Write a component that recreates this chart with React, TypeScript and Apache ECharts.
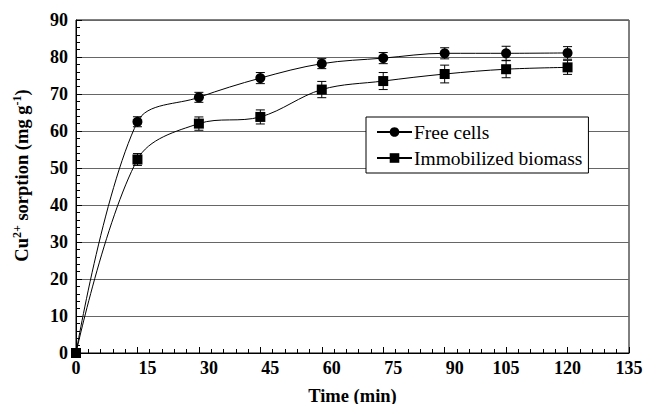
import React, { useEffect, useRef } from "react";
import * as echarts from "echarts";

const timeMin = [0, 15, 30, 45, 60, 75, 90, 105, 120];
const freeCells = [0, 62.5, 69.1, 74.3, 78.2, 79.7, 81.0, 81.0, 81.1];
const freeErr = [0, 1.35, 1.35, 1.5, 1.35, 1.5, 1.5, 1.9, 1.7];
const immobilized = [0, 52.3, 62.0, 63.8, 71.2, 73.5, 75.4, 76.7, 77.2];
const immErr = [0, 1.6, 1.8, 1.9, 2.2, 2.3, 2.4, 2.3, 1.9];
const seriesNames = ["Free cells", "Immobilized biomass"];

const FONT = "'Liberation Serif', 'Times New Roman', serif";

export default function App() {
  const ref = useRef<HTMLDivElement>(null);
  useEffect(() => {
    document.body.style.margin = "0";
    const chart = echarts.init(ref.current!, null, { renderer: "svg" });
    const errData = (vals: number[], errs: number[]) =>
      timeMin.map((t, i) => [t, vals[i] - errs[i], vals[i] + errs[i]]);
    const renderErr = (params: any, api: any) => {
      const x = api.value(0);
      const lo = api.value(1);
      const hi = api.value(2);
      if (hi - lo <= 0) return { type: "group", children: [] };
      const p1 = api.coord([x, hi]);
      const p2 = api.coord([x, lo]);
      const w = 4.5;
      const st = { stroke: "#000", lineWidth: 1 };
      return {
        type: "group",
        children: [
          { type: "line", shape: { x1: p1[0], y1: p1[1], x2: p2[0], y2: p2[1] }, style: st },
          { type: "line", shape: { x1: p1[0] - w, y1: p1[1], x2: p1[0] + w, y2: p1[1] }, style: st },
          { type: "line", shape: { x1: p2[0] - w, y1: p2[1], x2: p2[0] + w, y2: p2[1] }, style: st },
        ],
      };
    };
    chart.setOption({
      animation: false,
      backgroundColor: "#fff",
      textStyle: { fontFamily: FONT, color: "#000" },
      grid: {
        left: 76,
        right: 17,
        top: 20,
        bottom: 51,
        containLabel: false,
        outerBoundsMode: "none",
        show: true,
        borderColor: "#000",
        borderWidth: 1,
      },
      legend: {
        data: seriesNames,
        orient: "vertical",
        left: 366,
        top: 117,
        backgroundColor: "#fff",
        borderColor: "#000",
        borderWidth: 1,
        borderRadius: 0,
        padding: [5, 6, 5, 10],
        itemWidth: 35,
        itemHeight: 12,
        itemGap: 6,
        textStyle: { fontFamily: FONT, fontSize: 19.5, color: "#000", padding: [0, 0, 0, -3] },
      },
      xAxis: {
        type: "value",
        min: 0,
        max: 135,
        interval: 15,
        name: "Time (min)",
        nameLocation: "middle",
        nameGap: 33,
        nameTextStyle: { fontFamily: FONT, fontSize: 18.5, fontWeight: "bold", color: "#000" },
        axisLine: { show: true, lineStyle: { color: "#000", width: 1 } },
        axisTick: { show: true, inside: true, length: 6, lineStyle: { color: "#000" } },
        minorTick: { show: true, splitNumber: 5, length: 4, lineStyle: { color: "#000" } },
        splitLine: { show: false },
        axisLabel: {
          fontFamily: FONT,
          fontSize: 18,
          fontWeight: "bold",
          color: "#000",
          margin: 6,
          formatter: (v: number) => {
            const s = String(v);
            return s.length === 2 ? `{d|${s}}` : `{t|${s}}`;
          },
          rich: {
            d: { fontFamily: FONT, fontSize: 18, fontWeight: "bold", color: "#000", padding: [0, 0, 0, 20] },
            t: { fontFamily: FONT, fontSize: 18, fontWeight: "bold", color: "#000" },
          },
        },
      },
      yAxis: {
        type: "value",
        min: 0,
        max: 90,
        interval: 10,
        name: "{b|Cu}{s|2+}{b| sorption (mg g}{s|-1}{b|)}",
        nameLocation: "middle",
        nameGap: 43,
        nameRotate: 90,
        nameTextStyle: {
          fontFamily: FONT,
          fontSize: 18.5,
          fontWeight: "bold",
          color: "#000",
          padding: [0, 0, 0, 22],
          rich: {
            b: { fontFamily: FONT, fontSize: 18.5, fontWeight: "bold", color: "#000", lineHeight: 22 },
            s: {
              fontFamily: FONT,
              fontSize: 12,
              fontWeight: "bold",
              color: "#000",
              verticalAlign: "top",
              lineHeight: 22,
              padding: [0, 0, 8, 0],
            },
          },
        },
        axisLine: { show: true, lineStyle: { color: "#000", width: 1 } },
        axisTick: { show: true, inside: true, length: 6, lineStyle: { color: "#000" } },
        minorTick: { show: true, splitNumber: 5, length: 4, lineStyle: { color: "#000" } },
        splitLine: { show: true, lineStyle: { color: "#666", width: 1 } },
        axisLabel: { fontFamily: FONT, fontSize: 18, fontWeight: "bold", color: "#000", margin: 8 },
      },
      series: [
        {
          type: "custom",
          renderItem: renderErr,
          data: errData(freeCells, freeErr),
          encode: { x: 0, y: [1, 2] },
          z: 3,
          silent: true,
        },
        {
          type: "custom",
          renderItem: renderErr,
          data: errData(immobilized, immErr),
          encode: { x: 0, y: [1, 2] },
          z: 3,
          silent: true,
        },
        {
          name: seriesNames[0],
          type: "line",
          data: timeMin.map((t, i) => [t, freeCells[i]]),
          smooth: 0.35,
          symbol: "circle",
          symbolSize: 10,
          itemStyle: { color: "#000" },
          lineStyle: { color: "#000", width: 1 },
          z: 4,
        },
        {
          name: seriesNames[1],
          type: "line",
          data: timeMin.map((t, i) => [t, immobilized[i]]),
          smooth: 0.35,
          symbol: "rect",
          symbolSize: 10,
          itemStyle: { color: "#000" },
          lineStyle: { color: "#000", width: 1 },
          z: 4,
        },
      ],
    });
    return () => chart.dispose();
  }, []);
  return <div ref={ref} style={{ width: 646, height: 404 }} />;
}
